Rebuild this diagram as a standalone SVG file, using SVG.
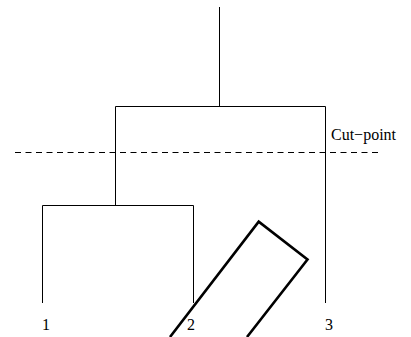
<svg xmlns="http://www.w3.org/2000/svg" width="411" height="337" viewBox="0 0 411 337">
<style>
.ln{stroke:#000;stroke-width:1;fill:none}
.dash{stroke:#000;stroke-width:1;fill:none;stroke-dasharray:6 4.5}
.lbl{font-size:16px;fill:#000}
.box{stroke:#000;stroke-width:2.6;fill:none;stroke-linejoin:miter}
</style>
<rect width="411" height="337" fill="#fff"/>
<g id="connectors">
<path class="ln" d="M219.5,7 V106.5"/>
<path class="ln" d="M115.5,205 V106.5 H325.5 V303"/>
<path class="ln" d="M42.5,303 V205.5 H193.5 V303"/>
</g>
<g id="cutline">
<path class="dash" d="M15,152.5 H379"/>
<text class="lbl" font-family="'Liberation Serif', 'DejaVu Serif', serif" x="331" y="140">Cut−point</text>
</g>
<g id="leaf1"><text class="lbl" font-family="'Liberation Serif', 'DejaVu Serif', serif" x="46" y="330" text-anchor="middle">1</text></g>
<g id="leaf2"><text class="lbl" font-family="'Liberation Serif', 'DejaVu Serif', serif" x="191" y="330" text-anchor="middle">2</text></g>
<g id="leaf3"><text class="lbl" font-family="'Liberation Serif', 'DejaVu Serif', serif" x="329" y="330" text-anchor="middle">3</text></g>
<g id="highlight">
<polyline class="box" points="170,337 258.7,221.7 307.5,259.5 247,337"/>
</g>
</svg>
